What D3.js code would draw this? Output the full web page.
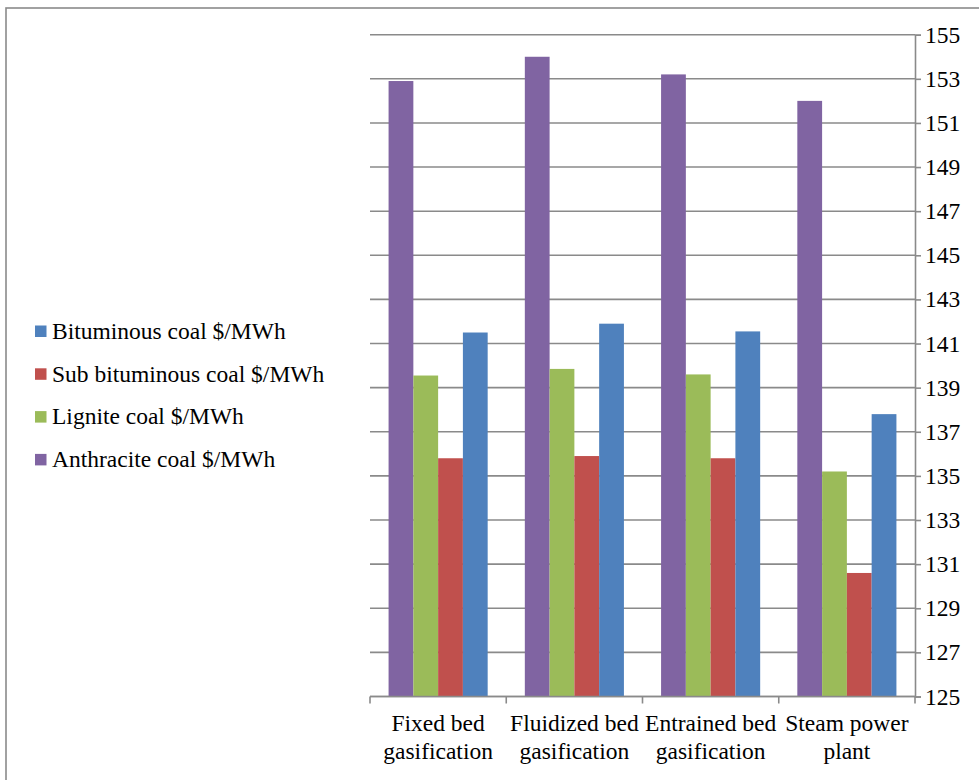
<!DOCTYPE html>
<html>
<head>
<meta charset="utf-8">
<script src="https://cdn.jsdelivr.net/npm/d3@7"></script>
<style>
  html, body { margin: 0; padding: 0; background: #fff; }
  svg { display: block; }
  svg text { font-family: "Liberation Serif", "Times New Roman", serif; fill: #000; }
</style>
</head>
<body>
<svg id="chart" width="979" height="780"></svg>
<script>
// Generation cost by technology and coal type ($/MWh)
const categories = [
  ["Fixed bed", "gasification"],
  ["Fluidized bed", "gasification"],
  ["Entrained bed", "gasification"],
  ["Steam power", "plant"]
];
const seriesNames = [
  "Anthracite coal $/MWh",
  "Lignite coal $/MWh",
  "Sub bituminous coal $/MWh",
  "Bituminous coal $/MWh"
];
const anthracite = [152.9, 154.0, 153.2, 152.0];
const lignite = [139.55, 139.85, 139.6, 135.2];
const subBituminous = [135.8, 135.9, 135.8, 130.6];
const bituminous = [141.5, 141.9, 141.55, 137.8];
const seriesColors = ["#8064A2", "#9BBB59", "#C0504D", "#4F81BD"];
const legendOrder = [
  "Bituminous coal $/MWh",
  "Sub bituminous coal $/MWh",
  "Lignite coal $/MWh",
  "Anthracite coal $/MWh"
];
const yTicks = d3.range(125, 156, 2);

const seriesValues = [anthracite, lignite, subBituminous, bituminous];
const colorOf = d3.scaleOrdinal().domain(seriesNames).range(seriesColors);

const svg = d3.select("#chart");
const gridColor = "#8a8a8a";
const fontFamily = "Liberation Serif, Times New Roman, serif";
const fontSize = 23.5;

// outer chart frame
svg.append("rect")
  .attr("x", 6).attr("y", 8)
  .attr("width", 1200).attr("height", 1200)
  .attr("fill", "none").attr("stroke", gridColor).attr("stroke-width", 1.6);

const plot = { left: 370, right: 915, top: 34.7, bottom: 696.5 };

const x0 = d3.scaleBand()
  .domain(d3.range(categories.length))
  .range([plot.left, plot.right])
  .padding(0);

const x1 = d3.scaleBand()
  .domain(seriesNames)
  .range([0, x0.bandwidth()])
  .paddingInner(0)
  .paddingOuter(0.75);

const y = d3.scaleLinear().domain([125, 155]).range([plot.bottom, plot.top]);

// horizontal gridlines
svg.append("g")
  .selectAll("line")
  .data(yTicks)
  .join("line")
  .attr("x1", plot.left).attr("x2", plot.right)
  .attr("y1", d => y(d)).attr("y2", d => y(d))
  .attr("stroke", gridColor).attr("stroke-width", 1.6);

// bars
const groups = svg.append("g")
  .selectAll("g")
  .data(categories.map((c, i) => i))
  .join("g")
  .attr("transform", i => `translate(${x0(i)},0)`);

groups.selectAll("rect")
  .data(i => seriesNames.map((s, k) => ({ s, v: seriesValues[k][i] })))
  .join("rect")
  .attr("x", d => x1(d.s))
  .attr("width", x1.bandwidth())
  .attr("y", d => y(d.v))
  .attr("height", d => y(125) - y(d.v))
  .attr("fill", d => colorOf(d.s));

// right value axis
const yAxis = d3.axisRight(y).tickValues(yTicks).tickSize(6).tickPadding(6).tickFormat(d3.format("d"));
const yg = svg.append("g").attr("transform", `translate(${plot.right},0)`).call(yAxis);
yg.attr("font-family", fontFamily).attr("font-size", fontSize);
yg.select(".domain").attr("stroke", gridColor).attr("stroke-width", 1.6);
yg.selectAll(".tick line").attr("stroke", gridColor).attr("stroke-width", 1.6);
yg.selectAll(".tick text")
  .attr("x", 10)
  .attr("font-family", fontFamily)
  .attr("font-size", fontSize)
  .attr("fill", "#000");

// category axis
svg.append("line")
  .attr("x1", plot.left).attr("x2", plot.right)
  .attr("y1", plot.bottom).attr("y2", plot.bottom)
  .attr("stroke", gridColor).attr("stroke-width", 1.6);

svg.append("g")
  .selectAll("line")
  .data(d3.range(categories.length + 1))
  .join("line")
  .attr("x1", i => plot.left + i * x0.step())
  .attr("x2", i => plot.left + i * x0.step())
  .attr("y1", plot.bottom).attr("y2", plot.bottom + 7)
  .attr("stroke", gridColor).attr("stroke-width", 1.6);

const catLabels = svg.append("g")
  .attr("font-family", fontFamily)
  .selectAll("text")
  .data(categories.map((c, i) => ({ c, i })))
  .join("text")
  .attr("text-anchor", "middle")
  .attr("font-size", fontSize)
  .attr("x", d => x0(d.i) + x0.bandwidth() / 2)
  .attr("y", 731);
catLabels.selectAll("tspan")
  .data(d => d.c.map(line => ({ line, x: x0(d.i) + x0.bandwidth() / 2 })))
  .join("tspan")
  .attr("x", d => d.x)
  .attr("dy", (d, k) => k === 0 ? 0 : 27.5)
  .text(d => d.line);

// legend
const legend = svg.append("g")
  .attr("font-family", fontFamily)
  .selectAll("g")
  .data(legendOrder)
  .join("g")
  .attr("transform", (d, i) => `translate(35,${331 + i * 42.8})`);
legend.append("rect")
  .attr("x", 0).attr("y", -5.5)
  .attr("width", 11.5).attr("height", 11.5)
  .attr("fill", d => colorOf(d));
legend.append("text")
  .attr("x", 17).attr("y", 0).attr("dy", "0.33em")
  .attr("font-size", fontSize)
  .text(d => d);
</script>
</body>
</html>
